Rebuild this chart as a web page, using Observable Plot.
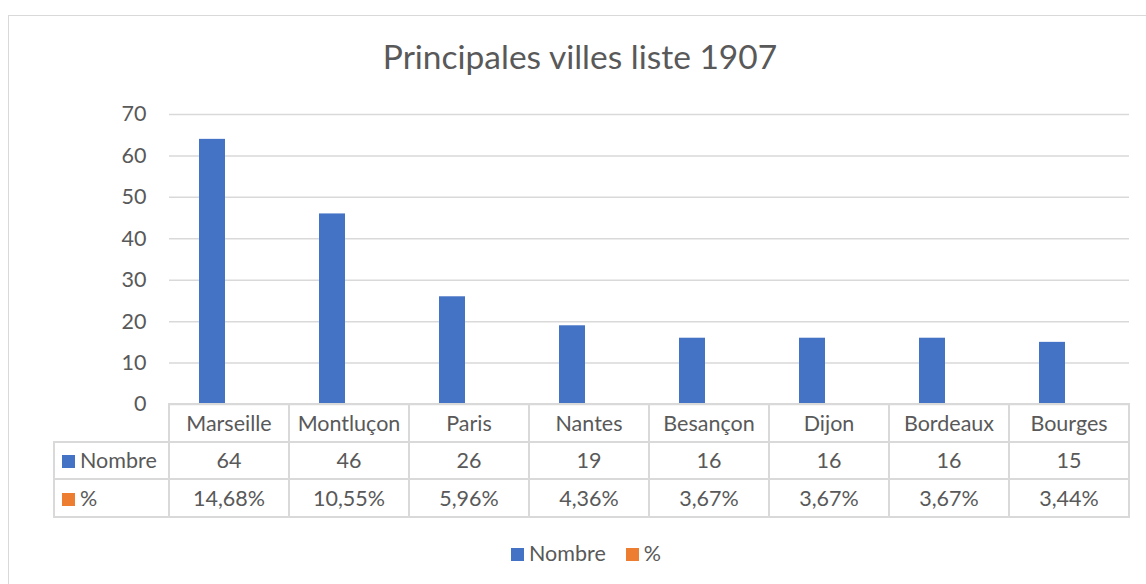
<!DOCTYPE html>
<html>
<head>
<meta charset="utf-8">
<script src="https://cdn.jsdelivr.net/npm/d3@7"></script>
<script src="https://cdn.jsdelivr.net/npm/@observablehq/plot@0.6"></script>
<style>
  html, body { margin: 0; padding: 0; background: #fff; }
  body { width: 1146px; height: 584px; overflow: hidden; position: relative; font-family: "Lato", "Open Sans", sans-serif; color: #595959; }
  #frame { position: absolute; left: 8px; top: 15px; width: 1160px; height: 620px; border: 1px solid #d9d9d9; box-sizing: border-box; }
  #title { position: absolute; left: 0; top: 36px; width: 1160px; text-align: center; font-size: 33.5px; line-height: 40px; color: #595959; white-space: nowrap; }
  #chart { position: absolute; left: 0; top: 0; }
  #table { position: absolute; left: 53px; top: 403px; border-collapse: collapse; table-layout: fixed; font-size: 21.5px; color: #595959; }
  #table td { border: 2px solid #d9d9d9; text-align: center; padding: 0; height: 35.5px; line-height: 26px; white-space: nowrap; }
  #table td.empty { border: none; }
  #table td.lab { text-align: left; padding-left: 7px; }
  .sw { display: inline-block; width: 13px; height: 13px; margin-right: 5px; vertical-align: 0px; }
  #legend { position: absolute; left: 0; top: 540px; width: 1172px; text-align: center; font-size: 21.5px; line-height: 26px; color: #595959; white-space: nowrap; }
  #legend span.item { margin: 0 10px; }
</style>
</head>
<body>
<div id="frame"></div>
<div id="chart"></div>
<div id="title">Principales villes liste 1907</div>
<table id="table"></table>
<div id="legend"></div>
<script>
const title = "Principales villes liste 1907";
const cities = ["Marseille", "Montluçon", "Paris", "Nantes", "Besançon", "Dijon", "Bordeaux", "Bourges"];
const nombre = [64, 46, 26, 19, 16, 16, 16, 15];
const pourcent = [14.68, 10.55, 5.96, 4.36, 3.67, 3.67, 3.67, 3.44];
const seriesNames = ["Nombre", "%"];
const seriesColors = ["#4472c4", "#ed7d31"];
const yTicks = [0, 10, 20, 30, 40, 50, 60, 70];

const data = cities.flatMap((c, i) => [
  {city: c, series: "Nombre", value: nombre[i]},
  {city: c, series: "%", value: pourcent[i] / 100}
]);

const chart = Plot.plot({
  width: 1146,
  height: 424,
  marginLeft: 169,
  marginRight: 17,
  marginTop: 114,
  marginBottom: 20,
  style: {fontFamily: "Lato, 'Open Sans', sans-serif", fontSize: "21.5px", color: "#595959", background: "transparent"},
  fx: {domain: cities, padding: 0, axis: null},
  x: {domain: seriesNames, paddingInner: 0.222, paddingOuter: 0.86, axis: null},
  y: {domain: [0, 70], axis: null},
  color: {domain: seriesNames, range: seriesColors},
  marks: [
    Plot.ruleY(yTicks, {stroke: "#d9d9d9", strokeWidth: 1.5}),
    Plot.axisY(yTicks, {tickSize: 0, tickPadding: 23, label: null, fill: "#595959"}),
    Plot.barY(data, {fx: "city", x: "series", y: "value", fill: "series"})
  ]
});
document.getElementById("chart").appendChild(chart);

// data table
const fmtPct = v => v.toFixed(2).replace(".", ",") + "%";
const table = d3.select("#table");
const cg = table.append("colgroup");
cg.append("col").style("width", "115px");
cities.forEach(() => cg.append("col").style("width", "120px"));
const hdr = table.append("tr");
hdr.append("td").attr("class", "empty");
cities.forEach(c => hdr.append("td").text(c));
const rows = [nombre.map(String), pourcent.map(fmtPct)];
seriesNames.forEach((s, si) => {
  const tr = table.append("tr");
  const lab = tr.append("td").attr("class", "lab");
  lab.append("span").attr("class", "sw").style("background", seriesColors[si]);
  lab.append("span").text(s);
  rows[si].forEach(v => tr.append("td").text(v));
});

// legend
const lg = d3.select("#legend");
seriesNames.forEach((s, si) => {
  const it = lg.append("span").attr("class", "item");
  it.append("span").attr("class", "sw").style("background", seriesColors[si]).style("margin-right", "5px");
  it.append("span").text(s);
});
</script>
</body>
</html>
